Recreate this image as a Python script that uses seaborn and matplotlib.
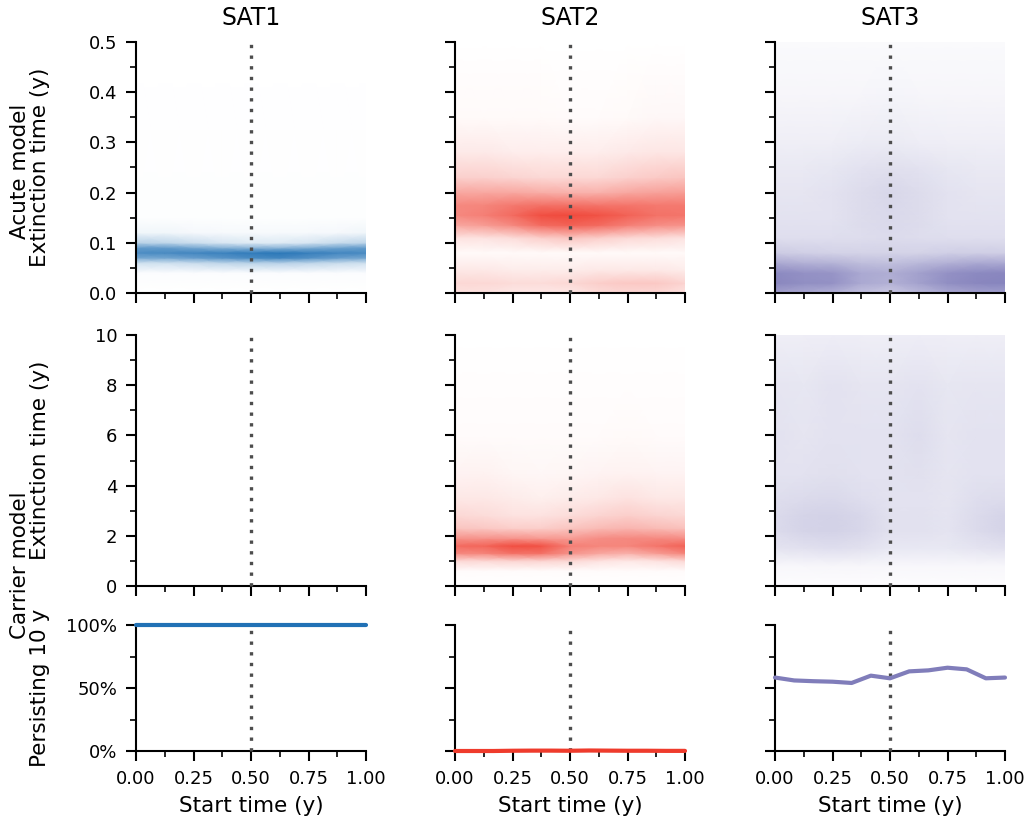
import numpy as np
import matplotlib
matplotlib.use("Agg")
import matplotlib.pyplot as plt
from matplotlib.colors import LinearSegmentedColormap
from matplotlib.ticker import MultipleLocator, PercentFormatter
import seaborn as sns

sns.set_theme(style="ticks")
plt.rcParams["font.family"] = ["DejaVu Sans"]
plt.rcParams.update({"text.color": "black", "axes.labelcolor": "black",
                     "xtick.color": "black", "ytick.color": "black"})

serotypes = ["SAT1", "SAT2", "SAT3"]
colors = ["#2171b5", "#ef3b2c", "#807dba"]

# start times (y) at which the density columns are evaluated
start_grid = [0.0, 0.125, 0.25, 0.375, 0.5, 0.625, 0.75, 0.875, 1.0]

# ---- Acute model: relative density of extinction time (one row per start time)
acute_sat1_levels = [0.0, 0.04, 0.06, 0.07, 0.08, 0.09, 0.10, 0.12, 0.15, 0.5]
acute_sat1_density = [
    [0.0, 0.02, 0.22, 0.62, 0.80, 0.70, 0.32, 0.07, 0.01, 0.0],
    [0.0, 0.02, 0.22, 0.62, 0.82, 0.70, 0.30, 0.07, 0.01, 0.0],
    [0.0, 0.02, 0.25, 0.68, 0.85, 0.62, 0.24, 0.05, 0.01, 0.0],
    [0.0, 0.02, 0.30, 0.75, 0.88, 0.55, 0.18, 0.04, 0.01, 0.0],
    [0.0, 0.02, 0.32, 0.82, 0.92, 0.52, 0.15, 0.04, 0.01, 0.0],
    [0.0, 0.02, 0.33, 0.85, 0.95, 0.52, 0.15, 0.04, 0.01, 0.0],
    [0.0, 0.02, 0.30, 0.78, 0.90, 0.58, 0.18, 0.04, 0.01, 0.0],
    [0.0, 0.02, 0.25, 0.68, 0.85, 0.65, 0.25, 0.05, 0.01, 0.0],
    [0.0, 0.02, 0.22, 0.62, 0.82, 0.70, 0.30, 0.07, 0.01, 0.0],
]

acute_sat2_levels = [0.0, 0.02, 0.045, 0.08, 0.11, 0.135, 0.155, 0.175,
                     0.2, 0.23, 0.28, 0.35, 0.5]
acute_sat2_density = [
    [0.15, 0.20, 0.12, 0.03, 0.15, 0.45, 0.60, 0.60, 0.45, 0.24, 0.11, 0.03, 0.0],
    [0.15, 0.20, 0.12, 0.03, 0.15, 0.50, 0.65, 0.62, 0.45, 0.24, 0.11, 0.03, 0.0],
    [0.12, 0.18, 0.10, 0.03, 0.18, 0.60, 0.75, 0.68, 0.45, 0.22, 0.09, 0.03, 0.0],
    [0.12, 0.18, 0.10, 0.03, 0.25, 0.75, 0.90, 0.72, 0.42, 0.20, 0.09, 0.03, 0.0],
    [0.12, 0.20, 0.10, 0.03, 0.30, 0.80, 0.92, 0.72, 0.40, 0.20, 0.09, 0.02, 0.0],
    [0.18, 0.25, 0.12, 0.03, 0.25, 0.75, 0.88, 0.70, 0.40, 0.20, 0.09, 0.02, 0.0],
    [0.20, 0.28, 0.12, 0.03, 0.20, 0.65, 0.80, 0.70, 0.45, 0.24, 0.11, 0.03, 0.0],
    [0.20, 0.28, 0.12, 0.03, 0.18, 0.58, 0.72, 0.68, 0.48, 0.27, 0.13, 0.04, 0.0],
    [0.15, 0.22, 0.10, 0.03, 0.15, 0.55, 0.70, 0.68, 0.50, 0.30, 0.13, 0.04, 0.0],
]

acute_sat3_levels = [0.0, 0.02, 0.04, 0.06, 0.08, 0.11, 0.15, 0.2, 0.25, 0.3, 0.4, 0.5]
acute_sat3_density = [
    [0.72, 0.92, 0.90, 0.66, 0.40, 0.25, 0.22, 0.20, 0.17, 0.13, 0.07, 0.04],
    [0.66, 0.86, 0.84, 0.60, 0.37, 0.25, 0.22, 0.20, 0.17, 0.13, 0.07, 0.04],
    [0.60, 0.84, 0.82, 0.58, 0.35, 0.25, 0.22, 0.22, 0.19, 0.13, 0.07, 0.04],
    [0.48, 0.66, 0.66, 0.50, 0.34, 0.26, 0.27, 0.27, 0.22, 0.15, 0.07, 0.04],
    [0.42, 0.60, 0.62, 0.48, 0.34, 0.28, 0.29, 0.31, 0.24, 0.16, 0.08, 0.04],
    [0.54, 0.72, 0.72, 0.54, 0.34, 0.26, 0.27, 0.27, 0.22, 0.14, 0.07, 0.04],
    [0.66, 0.86, 0.84, 0.60, 0.37, 0.25, 0.22, 0.22, 0.19, 0.13, 0.07, 0.04],
    [0.72, 0.92, 0.90, 0.66, 0.38, 0.25, 0.22, 0.20, 0.17, 0.13, 0.07, 0.04],
    [0.74, 0.94, 0.92, 0.66, 0.38, 0.25, 0.22, 0.20, 0.17, 0.13, 0.07, 0.04],
]

# ---- Carrier model: relative density of extinction time (SAT1 never goes extinct)
carrier_sat1_levels = []
carrier_sat1_density = []

carrier_sat2_levels = [0.0, 0.6, 1.0, 1.3, 1.6, 1.9, 2.3, 2.8, 3.5, 4.5, 6.0, 8.0, 10.0]
carrier_sat2_density = [
    [0.0, 0.02, 0.20, 0.60, 0.75, 0.55, 0.30, 0.20, 0.12, 0.06, 0.02, 0.01, 0.0],
    [0.0, 0.02, 0.20, 0.62, 0.78, 0.55, 0.28, 0.18, 0.12, 0.07, 0.02, 0.01, 0.0],
    [0.0, 0.02, 0.22, 0.72, 0.90, 0.55, 0.25, 0.15, 0.10, 0.05, 0.02, 0.01, 0.0],
    [0.0, 0.02, 0.22, 0.72, 0.88, 0.52, 0.25, 0.15, 0.08, 0.04, 0.02, 0.01, 0.0],
    [0.0, 0.02, 0.20, 0.55, 0.65, 0.50, 0.30, 0.18, 0.10, 0.05, 0.02, 0.01, 0.0],
    [0.0, 0.02, 0.15, 0.45, 0.62, 0.58, 0.35, 0.22, 0.12, 0.06, 0.02, 0.01, 0.0],
    [0.0, 0.02, 0.12, 0.40, 0.62, 0.60, 0.38, 0.25, 0.15, 0.07, 0.03, 0.01, 0.0],
    [0.0, 0.02, 0.15, 0.50, 0.70, 0.60, 0.35, 0.22, 0.12, 0.06, 0.02, 0.01, 0.0],
    [0.0, 0.02, 0.20, 0.62, 0.80, 0.58, 0.32, 0.20, 0.12, 0.06, 0.02, 0.01, 0.0],
]

carrier_sat3_levels = [0.0, 0.8, 1.5, 2.2, 2.8, 3.5, 4.5, 6.0, 8.0, 10.0]
carrier_sat3_density = [
    [0.02, 0.06, 0.21, 0.28, 0.28, 0.25, 0.22, 0.22, 0.20, 0.13],
    [0.02, 0.06, 0.23, 0.33, 0.33, 0.28, 0.22, 0.20, 0.19, 0.13],
    [0.02, 0.07, 0.25, 0.35, 0.35, 0.29, 0.24, 0.22, 0.22, 0.14],
    [0.02, 0.07, 0.23, 0.31, 0.31, 0.25, 0.22, 0.22, 0.20, 0.13],
    [0.02, 0.06, 0.18, 0.23, 0.23, 0.22, 0.22, 0.22, 0.20, 0.13],
    [0.02, 0.06, 0.18, 0.23, 0.23, 0.22, 0.24, 0.26, 0.22, 0.14],
    [0.02, 0.06, 0.18, 0.21, 0.21, 0.20, 0.20, 0.20, 0.19, 0.13],
    [0.02, 0.06, 0.21, 0.28, 0.28, 0.25, 0.22, 0.22, 0.20, 0.13],
    [0.02, 0.06, 0.23, 0.33, 0.33, 0.27, 0.22, 0.22, 0.20, 0.13],
]

# ---- Carrier model: proportion of runs persisting 10 y, by start time
start_times = [0.0, 0.0833, 0.1667, 0.25, 0.3333, 0.4167, 0.5,
               0.5833, 0.6667, 0.75, 0.8333, 0.9167, 1.0]
persist_sat1 = [1.0, 1.0, 1.0, 1.0, 1.0, 1.0, 1.0, 1.0, 1.0, 1.0, 1.0, 1.0, 1.0]
persist_sat2 = [0.0, 0.0, 0.0, 0.002, 0.003, 0.003, 0.002, 0.004, 0.003,
                0.002, 0.002, 0.001, 0.001]
persist_sat3 = [0.583, 0.560, 0.554, 0.550, 0.540, 0.598, 0.577, 0.632,
                0.640, 0.661, 0.648, 0.577, 0.583]

acute = [(acute_sat1_levels, acute_sat1_density),
         (acute_sat2_levels, acute_sat2_density),
         (acute_sat3_levels, acute_sat3_density)]
carrier = [(carrier_sat1_levels, carrier_sat1_density),
           (carrier_sat2_levels, carrier_sat2_density),
           (carrier_sat3_levels, carrier_sat3_density)]
persist = [persist_sat1, persist_sat2, persist_sat3]

W, H = 1030, 823
fig = plt.figure(figsize=(W / 100, H / 100), dpi=100)

col_left = [136, 455, 775]
col_width = 230
row_span = [(42, 293), (335, 586), (625, 751)]


def make_axes(r, c):
    top, bottom = row_span[r]
    return fig.add_axes([col_left[c] / W, 1 - bottom / H,
                         col_width / W, (bottom - top) / H])


def draw_density(ax, levels, density, color):
    if len(levels) == 0:
        return
    cmap = LinearSegmentedColormap.from_list("fade", ["white", color])
    z = np.asarray(density).T
    ax.pcolormesh(start_grid, levels, z, shading="gouraud", cmap=cmap,
                  vmin=0, vmax=1, rasterized=True, zorder=1)


def start_marker(ax, ytop):
    ax.plot([0.5, 0.5], [0, ytop], color="0.3", lw=2.4, dashes=(1, 2.2),
            zorder=2.6, clip_on=False)


def style_axes(ax, r, c):
    ax.set_xlim(0, 1)
    ax.xaxis.set_major_locator(MultipleLocator(0.25))
    ax.xaxis.set_minor_locator(MultipleLocator(0.125))
    ax.tick_params(which="major", length=7, width=1.5, pad=6.5,
                   labelsize=13, color="black", labelcolor="black")
    ax.tick_params(which="minor", length=4.5, width=1.2, color="black")
    for side in ("left", "bottom"):
        ax.spines[side].set_linewidth(1.5)
        ax.spines[side].set_color("black")
    if c > 0:
        ax.tick_params(labelleft=False)
    if r < 2:
        ax.tick_params(labelbottom=False)
    else:
        ax.set_xlabel("Start time (y)", fontsize=15.5, labelpad=6)
    sns.despine(ax=ax)


for c, sat in enumerate(serotypes):
    # acute model
    ax = make_axes(0, c)
    draw_density(ax, *acute[c], colors[c])
    ax.set_ylim(0, 0.5)
    ax.yaxis.set_major_locator(MultipleLocator(0.1))
    ax.yaxis.set_minor_locator(MultipleLocator(0.05))
    start_marker(ax, 0.5)
    ax.set_title(sat, fontsize=17, pad=12)
    style_axes(ax, 0, c)
    if c == 0:
        ax.set_ylabel("Extinction time (y)", fontsize=15.5)
        ax.yaxis.set_label_coords(-0.375, 0.5)

    # carrier model
    ax = make_axes(1, c)
    draw_density(ax, *carrier[c], colors[c])
    ax.set_ylim(0, 10)
    ax.yaxis.set_major_locator(MultipleLocator(2))
    ax.yaxis.set_minor_locator(MultipleLocator(1))
    start_marker(ax, 10)
    style_axes(ax, 1, c)
    if c == 0:
        ax.set_ylabel("Extinction time (y)", fontsize=15.5)
        ax.yaxis.set_label_coords(-0.375, 0.5)

    # carrier model persistence
    ax = make_axes(2, c)
    start_marker(ax, 1.0)
    sns.lineplot(x=start_times, y=persist[c], ax=ax, color=colors[c],
                 lw=3, zorder=4)
    for ln in ax.lines[1:]:
        ln.set_clip_on(False)
    ax.set_ylim(0, 1)
    ax.yaxis.set_major_locator(MultipleLocator(0.5))
    ax.yaxis.set_minor_locator(MultipleLocator(0.25))
    ax.yaxis.set_major_formatter(PercentFormatter(1.0, decimals=0))
    style_axes(ax, 2, c)
    if c == 0:
        ax.set_ylabel("Persisting 10 y", fontsize=15.5)
        ax.yaxis.set_label_coords(-0.375, 0.5)

fig.text(20 / W, 1 - 171 / H, "Acute model", rotation=90, ha="center",
         va="center", fontsize=15.5)
fig.text(20 / W, 1 - 565 / H, "Carrier model", rotation=90, ha="center",
         va="center", fontsize=15.5)

fig.savefig("out.png", dpi=100)
